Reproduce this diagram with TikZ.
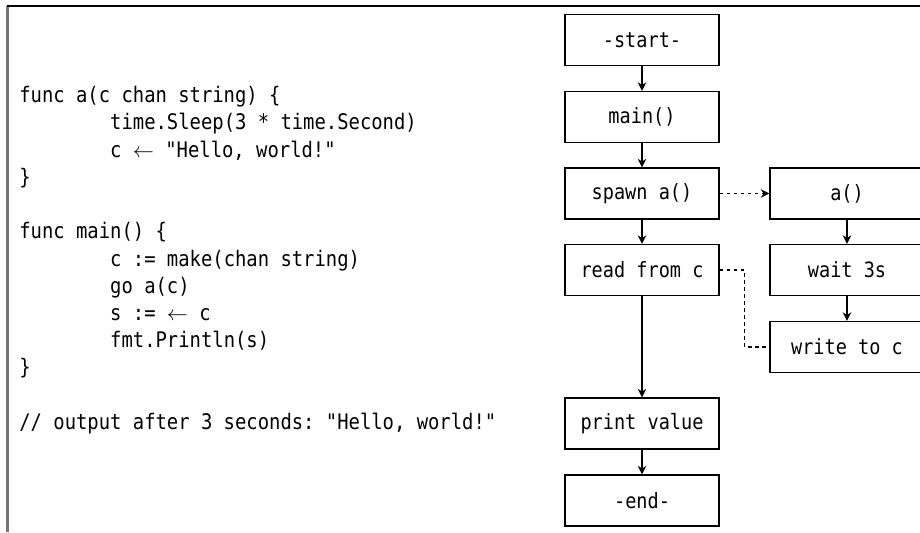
\documentclass[tikz,border=0pt]{standalone}
\usepackage{fontspec}
\setmonofont[FakeStretch=0.88]{DejaVu Sans Mono}
\usetikzlibrary{arrows.meta,positioning}

\newcommand{\codetab}{\phantom{xxxxxxxx}}
\newcommand{\recv}{$\leftarrow$}

\begin{document}
\begin{tikzpicture}[
    x=0.02cm, y=-0.02cm,
    box/.style={draw, line width=0.8pt, minimum width=3.08cm, minimum height=1.02cm, inner sep=0pt, font=\ttfamily\fontsize{12}{14}\selectfont},
    flow/.style={-{Stealth[length=1.7mm,width=1.7mm]}, line width=0.8pt},
    msg/.style={dash pattern=on 2pt off 2pt, line width=0.7pt},
    code/.style={anchor=north west, inner sep=0pt, align=left, font=\ttfamily\fontsize{12.2}{15.5}\selectfont},
]
\useasboundingbox (0,0) rectangle (920,532);
\clip (0,0) rectangle (920,532);

% --- Frame ---
\draw[line width=1.2pt, black!55] (7.5,532) -- (7.5,6);
\draw[line width=1pt] (7,6) -- (920,6);

% --- Source code ---
\node[code] (src) at (19,86) {func a(c chan string) \{\\
\codetab time.Sleep(3 * time.Second)\\
\codetab c \recv{} "Hello, world!"\\
\}\\
\mbox{}\\
func main() \{\\
\codetab c := make(chan string)\\
\codetab go a(c)\\
\codetab s := \recv{} c\\
\codetab fmt.Println(s)\\
\}\\
\mbox{}\\
// output after 3 seconds: "Hello, world!"};

% --- Main goroutine ---
\node[box] (start) at (642,40) {-start-};
\node[box] (main) at (642,117) {main()};
\node[box] (spawn) at (642,193.5) {spawn a()};
\node[box] (read) at (642,270) {read from c};
\node[box] (print) at (642,423.5) {print value};
\node[box] (stop) at (642,500.5) {-end-};

% --- Goroutine a() ---
\node[box] (a) at (847,193.5) {a()};
\node[box] (wait) at (847,270) {wait 3s};
\node[box] (write) at (847,347) {write to c};

% Flow
\draw[flow] (start) -- (main);
\draw[flow] (main) -- (spawn);
\draw[flow] (spawn) -- (read);
\draw[flow] (read) -- (print);
\draw[flow] (print) -- (stop);
\draw[flow] (a) -- (wait);
\draw[flow] (wait) -- (write);

% Channel messages
\draw[msg, -{Stealth[length=1.7mm,width=1.7mm]}] (spawn) -- (a);
\draw[msg] (read.east) -- ++(25,0) |- (write.west);

\end{tikzpicture}
\end{document}
